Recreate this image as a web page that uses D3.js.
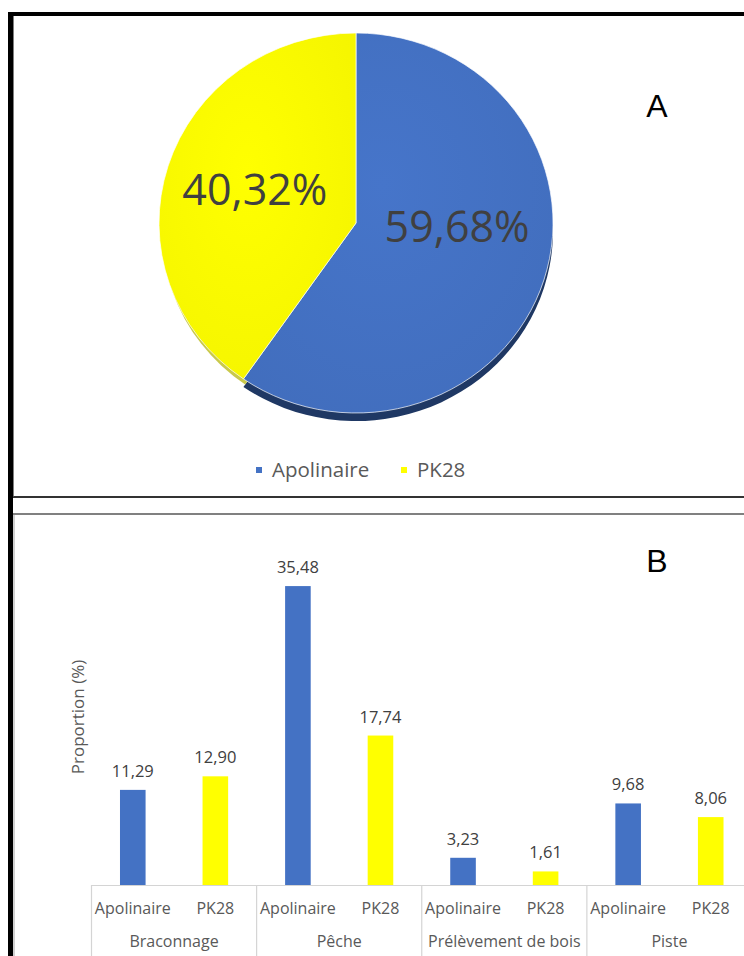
<!DOCTYPE html>
<html><head><meta charset="utf-8">
<script src="https://cdn.jsdelivr.net/npm/d3@7/dist/d3.min.js"></script>
<style>html,body{margin:0;padding:0;background:#fff;}svg{display:block;}</style>
</head><body>
<svg id="c" width="744" height="956"></svg>
<script>
// ---- data ----
const pieLabels = ["Apolinaire", "PK28"];
const pieValues = [59.68, 40.32];
const categories = ["Braconnage", "Pêche", "Prélèvement de bois", "Piste"];
const seriesNames = ["Apolinaire", "PK28"];
const apolinaireValues = [11.29, 35.48, 3.23, 9.68];
const pk28Values = [12.90, 17.74, 1.61, 8.06];

const colors = {Apolinaire: "#4472C4", PK28: "#FFFF00"};
const rimColors = {Apolinaire: "#1F3864", PK28: "#C9C94A"};
const fmt = v => v.toFixed(2).replace(".", ",");
const FONT = "'Open Sans', 'Noto Sans', sans-serif";

const svg = d3.select("#c");

// ---- frames ----
svg.append("rect").attr("x",0).attr("y",0).attr("width",744).attr("height",956).attr("fill","#fff");
svg.append("line").attr("x1",13).attr("x2",744).attr("y1",497).attr("y2",497).attr("stroke","#333").attr("stroke-width",2);
svg.append("line").attr("x1",13).attr("x2",744).attr("y1",514).attr("y2",514).attr("stroke","#808080").attr("stroke-width",2);
svg.append("line").attr("x1",14).attr("x2",14).attr("y1",515).attr("y2",956).attr("stroke","#d0d0d0").attr("stroke-width",2);
svg.append("line").attr("x1",13).attr("x2",13).attr("y1",16).attr("y2",497).attr("stroke","#555").attr("stroke-width",1.5);
svg.append("line").attr("x1",8).attr("x2",744).attr("y1",14).attr("y2",14).attr("stroke","#000").attr("stroke-width",4);
svg.append("line").attr("x1",10.5).attr("x2",10.5).attr("y1",12).attr("y2",956).attr("stroke","#000").attr("stroke-width",5);

// ---- pie (A) ----
const cx = 356, cy = 223, rx = 197, ry = 190, depth = 8;
const pie = d3.pie().sort(null).value(d => d.v);
const pieData = pie(pieLabels.map((l,i) => ({l, v: pieValues[i]})));
const arc = d3.arc().innerRadius(0).outerRadius(rx);

const defs = svg.append("defs");
pieLabels.forEach(l => {
  const g = defs.append("radialGradient").attr("id","g_"+l).attr("cx","45%").attr("cy","40%").attr("r","75%");
  const base = d3.color(colors[l]);
  g.append("stop").attr("offset","0%").attr("stop-color", base.brighter(0.08));
  g.append("stop").attr("offset","100%").attr("stop-color", base.darker(0.12));
});

const rim = svg.append("g").attr("transform", `translate(${cx},${cy+depth}) scale(1,${ry/rx})`);
rim.selectAll("path").data(pieData).enter().append("path")
  .attr("d", d => d.data.l === "PK28" ? d3.arc().innerRadius(0).outerRadius(rx - 3)(d) : arc(d))
  .attr("fill", d => rimColors[d.data.l]);

const face = svg.append("g").attr("transform", `translate(${cx},${cy}) scale(1,${ry/rx})`);
face.selectAll("path").data(pieData).enter().append("path")
  .attr("d", arc).attr("fill", d => `url(#g_${d.data.l})`)
  .attr("stroke", "rgba(255,255,255,0.7)").attr("stroke-width", 1);

const labelArc = d3.arc().innerRadius(106).outerRadius(106);
svg.selectAll("text.pl").data(pieData).enter().append("text")
  .attr("class","pl")
  .attr("x", d => cx + labelArc.centroid(d)[0])
  .attr("y", d => cy + labelArc.centroid(d)[1]*ry/rx + (d.data.l === "PK28" ? 13 : -12))
  .attr("text-anchor","middle")
  .attr("font-family", FONT).attr("font-size", 43).attr("fill","#404040")
  .text(d => fmt(d.data.v) + "%");

svg.append("text").attr("x",657).attr("y",117).attr("text-anchor","middle")
  .attr("font-family","'Liberation Sans', Arial, sans-serif").attr("font-size",32).attr("fill","#000").text("A");

// legend
const leg = [{l:"Apolinaire", x:256}, {l:"PK28", x:401}];
leg.forEach(o => {
  svg.append("rect").attr("x",o.x).attr("y",467).attr("width",6).attr("height",6).attr("fill",colors[o.l]);
  svg.append("text").attr("x",o.x+16).attr("y",477).attr("font-family",FONT).attr("font-size",20.5)
    .attr("fill","#595959").text(o.l);
});

// ---- bar chart (B) ----
svg.append("text").attr("x",657).attr("y",572).attr("text-anchor","middle")
  .attr("font-family","'Liberation Sans', Arial, sans-serif").attr("font-size",32).attr("fill","#000").text("B");

const x0 = d3.scaleBand().domain(categories).range([91.5, 752]).paddingInner(0).paddingOuter(0);
const x1 = d3.scaleBand().domain(seriesNames).range([0, x0.bandwidth()]).paddingInner(0.69).paddingOuter(0.345);
const y = d3.scaleLinear().domain([0, 40]).range([885, 548]);

const barData = [];
categories.forEach((c,i) => {
  barData.push({c, s:"Apolinaire", v: apolinaireValues[i]});
  barData.push({c, s:"PK28", v: pk28Values[i]});
});

svg.selectAll("rect.bar").data(barData).enter().append("rect").attr("class","bar")
  .attr("x", d => x0(d.c) + x1(d.s)).attr("width", x1.bandwidth())
  .attr("y", d => y(d.v)).attr("height", d => y(0) - y(d.v))
  .attr("fill", d => colors[d.s]);

svg.selectAll("text.bl").data(barData).enter().append("text").attr("class","bl")
  .attr("x", d => x0(d.c) + x1(d.s) + x1.bandwidth()/2).attr("y", d => y(d.v) - 13)
  .attr("text-anchor","middle").attr("font-family",FONT).attr("font-size",16.5).attr("fill","#404040")
  .text(d => fmt(d.v));

// axis frame
const axisCol = "#d4d4d4";
svg.append("line").attr("x1", x0.range()[0]).attr("x2", 744).attr("y1", y(0)+0.5).attr("y2", y(0)+0.5)
  .attr("stroke", axisCol).attr("stroke-width", 1.2);
const seps = categories.map(c => x0(c)).concat([x0.range()[1]]);
svg.selectAll("line.sep").data(seps).enter().append("line").attr("class","sep")
  .attr("x1", d => d).attr("x2", d => d).attr("y1", y(0)).attr("y2", 956)
  .attr("stroke", axisCol).attr("stroke-width", 1.2);

svg.selectAll("text.tk").data(barData).enter().append("text").attr("class","tk")
  .attr("x", d => x0(d.c) + x1(d.s) + x1.bandwidth()/2).attr("y", 914)
  .attr("text-anchor","middle").attr("font-family",FONT).attr("font-size",16).attr("fill","#595959")
  .text(d => d.s);

svg.selectAll("text.cat").data(categories).enter().append("text").attr("class","cat")
  .attr("x", d => x0(d) + x0.bandwidth()/2).attr("y", 947)
  .attr("text-anchor","middle").attr("font-family",FONT).attr("font-size",16).attr("fill","#595959")
  .text(d => d);

svg.append("text").attr("transform","translate(84,717) rotate(-90)").attr("text-anchor","middle")
  .attr("font-family",FONT).attr("font-size",17).attr("fill","#595959").text("Proportion (%)");
</script>
</body></html>
